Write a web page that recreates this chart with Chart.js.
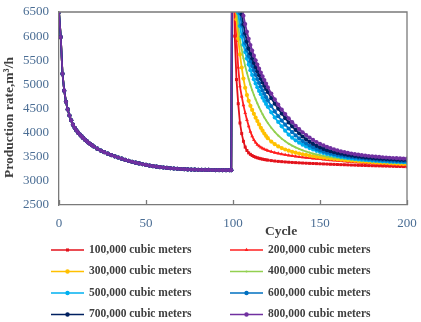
<!DOCTYPE html>
<html lang="en">
<head>
<meta charset="UTF-8">
<title>Production rate vs cycle</title>
<script src="https://cdn.jsdelivr.net/npm/chart.js@4"></script>
<style>
  html, body { margin: 0; padding: 0; background: #fff; }
  #wrap { position: relative; width: 421px; height: 322px; }
</style>
</head>
<body>
<div id="wrap"><canvas id="chart"></canvas></div>
<script>
// first 100 cycles: same curve for every volume
const cycles1 = [0,1,2,3,4,5,6,7,8,9,10,11,12,13,14,15,16,17,18,19,20,
  22,24,26,28,30,32,34,36,38,40,42,44,46,48,50,52,54,56,58,60,
  62,64,66,68,70,72,74,76,78,80,82,84,86,88,90,92,94,96,98,99];
const phase1 = [6500,5980,5220,4870,4640,4480,4355,4255,4165,4100,4045,4000,3960,3922,3886,3852,3820,3790,3762,3736,3712,
  3667,3628,3594,3563,3535,3509,3484,3460,3437,3415,3396,3378,3361,3345,3330,3317,3305,3294,3285,3277,
  3269,3262,3256,3251,3246,3242,3238,3235,3232,3230,3228,3227,3226,3225,3224,3223,3222,3222,3221,3221];

// after the injection at cycle 100
const cycles2 = [100,101,102,103,104,105,106,107,108,109,110,111,112,113,114,115,116,117,118,119,120,
  122,124,126,128,130,132,134,136,138,140,142,144,146,148,150,152,154,156,158,160,
  162,164,166,168,170,172,174,176,178,180,182,184,186,188,190,192,194,196,198,200];

const rate100k = [9000,6000,5100,4600,4200,3980,3820,3700,3630,3580,3550,3525,3505,3490,3478,3468,3458,3450,3442,3436,3430,
  3420,3411,3404,3398,3392,3387,3382,3378,3374,3370,3366,3363,3360,3357,3354,3351,3348,3345,3342,3339,
  3336,3334,3331,3328,3326,3323,3321,3319,3316,3314,3312,3310,3308,3306,3304,3302,3300,3298,3296,3294];
const rate200k = [9500,6600,5900,5350,4960,4750,4570,4410,4265,4135,4020,3925,3850,3795,3752,3720,3695,3673,3655,3640,3627,
  3605,3585,3568,3553,3540,3528,3517,3507,3498,3489,3481,3473,3466,3459,3452,3445,3438,3431,3424,3418,
  3412,3406,3400,3394,3389,3384,3379,3374,3369,3364,3359,3355,3350,3346,3342,3338,3334,3330,3326,3322];
const rate300k = [10000,7000,6350,5950,5620,5350,5120,4930,4780,4660,4555,4470,4390,4310,4240,4170,4100,4040,3980,3930,3885,
  3815,3760,3715,3680,3650,3625,3603,3584,3567,3552,3538,3525,3513,3502,3492,3482,3473,3464,3456,3448,
  3441,3434,3427,3421,3415,3409,3403,3398,3393,3388,3383,3378,3374,3370,3366,3362,3358,3354,3350,3346];
const rate400k = [11000,7400,6650,6220,5930,5720,5540,5380,5240,5110,4990,4880,4780,4690,4605,4525,4450,4380,4315,4255,4200,
  4100,4015,3940,3875,3820,3772,3730,3694,3662,3634,3609,3587,3567,3549,3533,3518,3505,3493,3482,3472,
  3463,3454,3446,3439,3432,3426,3420,3414,3409,3404,3399,3395,3391,3387,3383,3379,3376,3373,3370,3367];
const rate500k = [12000,8000,7000,6480,6210,5990,5820,5670,5535,5410,5295,5195,5105,5020,4940,4865,4795,4725,4660,4595,4535,
  4420,4315,4220,4130,4040,3960,3895,3840,3792,3750,3713,3680,3650,3623,3599,3578,3558,3541,3525,3511,
  3497,3485,3474,3464,3455,3447,3440,3433,3427,3421,3416,3411,3406,3402,3398,3395,3392,3389,3386,3383];
const rate600k = [13000,8800,7600,6900,6480,6230,6030,5860,5715,5590,5480,5380,5285,5195,5110,5030,4950,4875,4805,4735,4670,
  4550,4440,4340,4250,4165,4085,4010,3942,3880,3825,3776,3733,3695,3662,3633,3608,3587,3568,3552,3538,
  3525,3513,3502,3492,3483,3475,3467,3459,3452,3445,3439,3433,3428,3423,3419,3415,3411,3408,3405,3402];
const rate700k = [14000,9500,8200,7400,6850,6450,6240,6060,5890,5745,5640,5540,5445,5355,5270,5190,5115,5040,4970,4905,4840,
  4715,4600,4495,4395,4300,4212,4130,4055,3985,3920,3862,3810,3765,3727,3693,3663,3637,3614,3594,3577,
  3562,3548,3536,3525,3514,3504,3495,3487,3480,3473,3467,3461,3456,3451,3447,3443,3440,3437,3434,3431];
const rate800k = [15000,10500,9000,8000,7300,6800,6420,6250,6090,5945,5815,5700,5595,5500,5410,5325,5245,5165,5090,5015,4940,
  4810,4690,4580,4478,4385,4298,4217,4142,4072,4008,3950,3897,3849,3806,3768,3734,3704,3677,3653,3632,
  3613,3596,3581,3567,3554,3543,3533,3524,3516,3509,3502,3496,3490,3484,3479,3474,3470,3466,3463,3460];

const seriesNames = ['100,000 cubic meters','200,000 cubic meters','300,000 cubic meters','400,000 cubic meters',
  '500,000 cubic meters','600,000 cubic meters','700,000 cubic meters','800,000 cubic meters'];
const seriesValues = [rate100k, rate200k, rate300k, rate400k, rate500k, rate600k, rate700k, rate800k];
const seriesColors = ['#e3121b','#ff1f1f','#ffc000','#92d050','#00b0f0','#0070c0','#002060','#7030a0'];
const seriesMarkers = ['rect','triangle','circle','circle','circle','circle','circle','circle'];

const xMin = 0, xMax = 200, xStep = 50;
const yMin = 2500, yMax = 6500, yStep = 500;

const axisColor = '#7a7a7a';
const tickColor = '#4a6d94';
const titleColor = '#3f3f3f';
const serif = '"Liberation Serif", "Times New Roman", serif';

const datasets = seriesNames.map((name, i) => {
  const pts = [];
  cycles1.forEach((c, k) => pts.push({ x: c, y: phase1[k] }));
  cycles2.forEach((c, k) => pts.push({ x: c, y: seriesValues[i][k] }));
  return {
    label: name,
    data: pts,
    borderColor: seriesColors[i],
    backgroundColor: seriesColors[i],
    borderWidth: 1.8,
    pointStyle: seriesMarkers[i],
    pointRadius: i === 3 ? 1 : 2.1,
    pointBorderWidth: 0,
    order: seriesNames.length - i,   // purple drawn last, on top
    tension: 0
  };
});

// frame, inside ticks, axis titles and legend
const extras = {
  id: 'extras',
  afterDatasetsDraw(chart) {
    const { ctx, chartArea: a, scales } = chart;
    ctx.save();
    ctx.strokeStyle = axisColor;
    ctx.lineWidth = 1.3;
    ctx.beginPath();
    ctx.moveTo(a.left, a.top); ctx.lineTo(a.right, a.top); ctx.lineTo(a.right, a.bottom);
    scales.x.ticks.forEach(t => {
      const px = Math.round(scales.x.getPixelForValue(t.value)) + 0.5;
      ctx.moveTo(px, a.bottom); ctx.lineTo(px, a.bottom - 5);
    });
    ctx.stroke();
    ctx.restore();
  },
  afterDraw(chart) {
    const { ctx } = chart;
    ctx.save();
    ctx.fillStyle = titleColor;
    ctx.font = 'bold 13.5px ' + serif;
    ctx.textAlign = 'center';
    ctx.textBaseline = 'middle';
    ctx.fillText('Cycle', 281, 232);

    ctx.save();
    ctx.translate(9.5, 117.5);
    ctx.rotate(-Math.PI / 2);
    ctx.fillText('Production rate,m³/h', 0, 0);
    ctx.restore();

    const colLine = [51, 230];
    const rowY = [250, 271.5, 293, 314.5];
    ctx.font = 'bold 11.5px ' + serif;
    ctx.textAlign = 'left';
    seriesNames.forEach((name, i) => {
      const x0 = colLine[i % 2];
      const y = rowY[Math.floor(i / 2)];
      ctx.strokeStyle = seriesColors[i];
      ctx.lineWidth = 1.6;
      ctx.beginPath(); ctx.moveTo(x0, y); ctx.lineTo(x0 + 33, y); ctx.stroke();
      ctx.fillStyle = seriesColors[i];
      Chart.helpers.drawPoint(ctx, { pointStyle: seriesMarkers[i], radius: i === 3 ? 1 : 2.2, rotation: 0, borderWidth: 0 }, x0 + 16.5, y);
      ctx.fillStyle = titleColor;
      ctx.fillText(name, x0 + 38, y);
    });
    ctx.restore();
  }
};

new Chart(document.getElementById('chart'), {
  type: 'line',
  data: { datasets },
  options: {
    responsive: true,
    maintainAspectRatio: false,
    animation: false,
    events: [],
    layout: { padding: { top: 12, right: 14, bottom: 92, left: 0 } },
    plugins: { legend: { display: false }, tooltip: { enabled: false } },
    scales: {
      x: {
        type: 'linear', min: xMin, max: xMax,
        grid: { display: false, tickLength: 8 },
        border: { display: true, color: axisColor, width: 1.3 },
        ticks: { stepSize: xStep, color: tickColor, padding: 3, font: { family: serif, size: 13 }, maxRotation: 0,
          callback: v => String(v) },
        afterFit(s) { s.height = 25; }
      },
      y: {
        min: yMin, max: yMax,
        grid: { display: false, tickLength: 8 },
        border: { display: true, color: axisColor, width: 1.3 },
        ticks: { stepSize: yStep, color: tickColor, padding: 2, font: { family: serif, size: 13 },
          callback: v => String(v) },
        afterFit(s) { s.width = 59; }
      }
    }
  },
  plugins: [extras]
});
</script>
</body>
</html>
